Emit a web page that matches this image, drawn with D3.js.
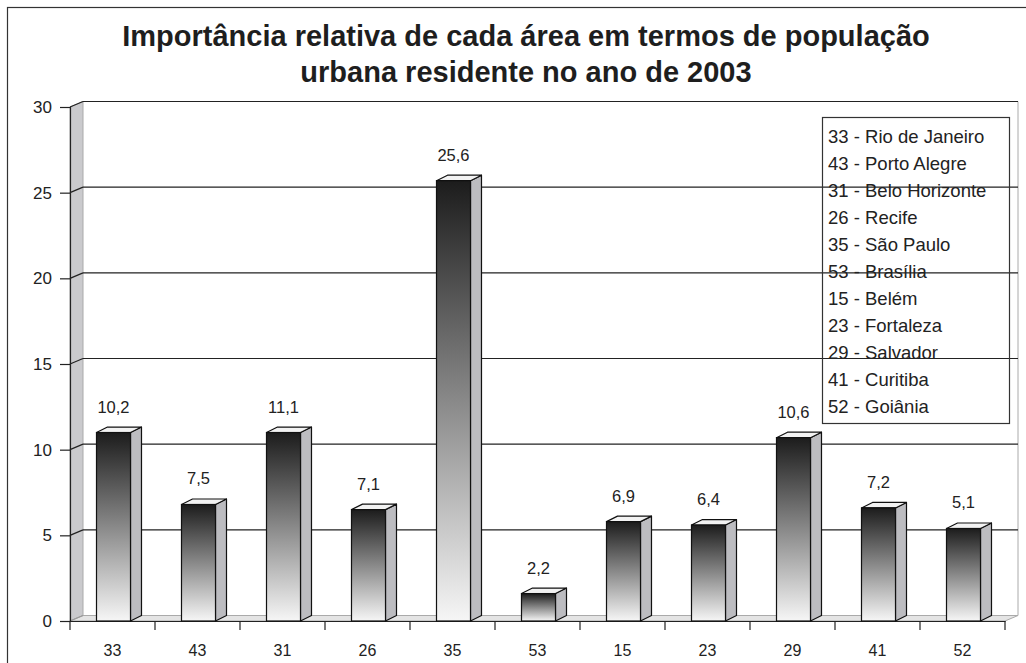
<!DOCTYPE html>
<html>
<head>
<meta charset="utf-8">
<script src="https://cdn.jsdelivr.net/npm/d3@7"></script>
<style>
  html, body { margin: 0; padding: 0; background: #fff; }
  svg { display: block; font-family: "Liberation Sans", Arial, sans-serif; }
</style>
</head>
<body>
<div id="chart"></div>
<script>
// data
const codes = ["33", "43", "31", "26", "35", "53", "15", "23", "29", "41", "52"];
const barValues = [11.0, 6.8, 11.0, 6.5, 25.7, 1.6, 5.8, 5.6, 10.7, 6.6, 5.4];
const valueLabels = ["10,2", "7,5", "11,1", "7,1", "25,6", "2,2", "6,9", "6,4", "10,6", "7,2", "5,1"];
const legendLabels = [
  "33 - Rio de Janeiro", "43 - Porto Alegre", "31 - Belo Horizonte", "26 - Recife",
  "35 - São Paulo", "53 - Brasília", "15 - Belém", "23 - Fortaleza",
  "29 - Salvador", "41 - Curitiba", "52 - Goiânia"
];
const yTicks = [0, 5, 10, 15, 20, 25, 30];
const titleLines = [
  "Importância relativa de cada área em termos de população",
  "urbana residente no ano de 2003"
];

const W = 1026, H = 663;
const plot = { left: 70, right: 1005, top: 107, bottom: 621 };
const wallDepth = { dx: 13, dy: -5.5 };
const barDepth = { dx: 11, dy: -5.5 };

const svg = d3.select("#chart").append("svg")
  .attr("width", W)
  .attr("height", H);

const defs = svg.append("defs");
const grad = defs.append("linearGradient")
  .attr("id", "barGrad")
  .attr("x1", 0).attr("y1", 0).attr("x2", 0).attr("y2", 1);
grad.append("stop").attr("offset", "0%").attr("stop-color", "#1c1c1c");
grad.append("stop").attr("offset", "100%").attr("stop-color", "#f6f6f6");

// outer frame
svg.append("rect")
  .attr("x", 7.5).attr("y", 7.5)
  .attr("width", 1060).attr("height", 700)
  .attr("fill", "none")
  .attr("stroke", "#333")
  .attr("stroke-width", 1.2);

// title
svg.append("g").selectAll("text")
  .data(titleLines)
  .join("text")
  .attr("x", 526)
  .attr("y", (d, i) => 46 + i * 36)
  .attr("text-anchor", "middle")
  .style("font-size", "29px")
  .style("font-weight", "bold")
  .style("fill", "#1e1e1e")
  .text(d => d);

// scales
const x = d3.scaleBand()
  .domain(codes)
  .range([plot.left, plot.right])
  .padding(0);

const y = d3.scaleLinear()
  .domain([0, 30])
  .range([plot.bottom, plot.top]);

const barW = x.bandwidth() * 0.4;

// left wall
const y0 = y(0), yTop = y(30);
svg.append("path")
  .attr("d", `M${plot.left},${yTop} L${plot.left + wallDepth.dx},${yTop + wallDepth.dy}
              L${plot.left + wallDepth.dx},${y0 + wallDepth.dy} L${plot.left},${y0} Z`)
  .attr("fill", "#cacacd")
  .attr("stroke", "#aaa")
  .attr("stroke-width", 1);

// floor
svg.append("path")
  .attr("d", `M${plot.left},${y0} L${plot.left + wallDepth.dx},${y0 + wallDepth.dy}
              L${plot.right + wallDepth.dx},${y0 + wallDepth.dy} L${plot.right},${y0} Z`)
  .attr("fill", "#e4e4e4")
  .attr("stroke", "#aaa")
  .attr("stroke-width", 1);

// back wall right edge
svg.append("line")
  .attr("x1", plot.right + wallDepth.dx).attr("x2", plot.right + wallDepth.dx)
  .attr("y1", yTop + wallDepth.dy).attr("y2", y0 + wallDepth.dy)
  .attr("stroke", "#aaa");

// gridlines on the back wall + diagonals on the side wall
const grid = svg.append("g");
grid.selectAll("line.grid")
  .data(yTicks.filter(d => d > 0))
  .join("line")
  .attr("class", "grid")
  .attr("x1", plot.left + wallDepth.dx)
  .attr("x2", plot.right + wallDepth.dx)
  .attr("y1", d => y(d) + wallDepth.dy)
  .attr("y2", d => y(d) + wallDepth.dy)
  .attr("stroke", "#222")
  .attr("stroke-width", 1.2);

grid.selectAll("line.diag")
  .data(yTicks)
  .join("line")
  .attr("class", "diag")
  .attr("x1", plot.left)
  .attr("x2", plot.left + wallDepth.dx)
  .attr("y1", d => y(d))
  .attr("y2", d => y(d) + wallDepth.dy)
  .attr("stroke", d => d === 0 ? "#999" : "#222")
  .attr("stroke-width", 1.2);

// legend (no fill, gridlines show through)
const legend = svg.append("g");
legend.append("rect")
  .attr("x", 822.5).attr("y", 117.5)
  .attr("width", 187).attr("height", 306)
  .attr("fill", "none")
  .attr("stroke", "#333")
  .attr("stroke-width", 1.2);
legend.selectAll("text")
  .data(legendLabels)
  .join("text")
  .attr("x", 828)
  .attr("y", (d, i) => 143 + i * 27)
  .style("font-size", "18.5px")
  .style("fill", "#222")
  .text(d => d);

// y axis
const yAxis = svg.append("g")
  .attr("transform", `translate(${plot.left},0)`)
  .call(d3.axisLeft(y).tickValues(yTicks).tickSize(10).tickPadding(8).tickFormat(d3.format("d")));
yAxis.select(".domain").attr("stroke", "#222").attr("stroke-width", 1.2);
yAxis.selectAll(".tick line").attr("stroke", "#222").attr("stroke-width", 1.2);
yAxis.selectAll(".tick text")
  .style("font-size", "17px")
  .style("font-family", "Liberation Sans, Arial, sans-serif")
  .attr("fill", "#222");

// x axis: labels at band centres, ticks at band edges
const xAxis = svg.append("g")
  .attr("transform", `translate(0,${plot.bottom})`)
  .call(d3.axisBottom(x).tickSize(0).tickPadding(24));
xAxis.select(".domain").attr("stroke", "#222").attr("stroke-width", 1.2);
xAxis.selectAll(".tick text")
  .style("font-size", "16px")
  .style("font-family", "Liberation Sans, Arial, sans-serif")
  .attr("fill", "#222");

const edges = codes.map(c => x(c)).concat([x.range()[1]]);
svg.append("g").selectAll("line")
  .data(edges)
  .join("line")
  .attr("x1", d => d).attr("x2", d => d)
  .attr("y1", plot.bottom).attr("y2", plot.bottom + 9)
  .attr("stroke", "#222")
  .attr("stroke-width", 1.2);

// bars
const bars = svg.append("g").selectAll("g.bar")
  .data(codes.map((c, i) => ({ code: c, value: barValues[i], label: valueLabels[i] })))
  .join("g")
  .attr("class", "bar");

const bx0 = d => x(d.code) + (x.bandwidth() - barW) / 2 + 1;

bars.append("path") // side face
  .attr("d", d => {
    const x1 = bx0(d) + barW, t = y(d.value), b = y(0);
    return `M${x1},${t} L${x1 + barDepth.dx},${t + barDepth.dy} L${x1 + barDepth.dx},${b + barDepth.dy} L${x1},${b} Z`;
  })
  .attr("fill", "#bcbcc0")
  .attr("stroke", "#111")
  .attr("stroke-width", 1.2)
  .attr("stroke-linejoin", "round");

bars.append("path") // top face
  .attr("d", d => {
    const x0 = bx0(d), x1 = x0 + barW, t = y(d.value);
    return `M${x0},${t} L${x0 + barDepth.dx},${t + barDepth.dy} L${x1 + barDepth.dx},${t + barDepth.dy} L${x1},${t} Z`;
  })
  .attr("fill", "#f2f2f2")
  .attr("stroke", "#111")
  .attr("stroke-width", 1.2)
  .attr("stroke-linejoin", "round");

bars.append("rect") // front face
  .attr("x", bx0)
  .attr("y", d => y(d.value))
  .attr("width", barW)
  .attr("height", d => y(0) - y(d.value))
  .attr("fill", "url(#barGrad)")
  .attr("stroke", "#111")
  .attr("stroke-width", 1.2);

bars.append("text")
  .attr("x", d => bx0(d) + barW / 2)
  .attr("y", d => y(d.value) - 20)
  .attr("text-anchor", "middle")
  .style("font-size", "16.5px")
  .style("fill", "#222")
  .text(d => d.label);
</script>
</body>
</html>
